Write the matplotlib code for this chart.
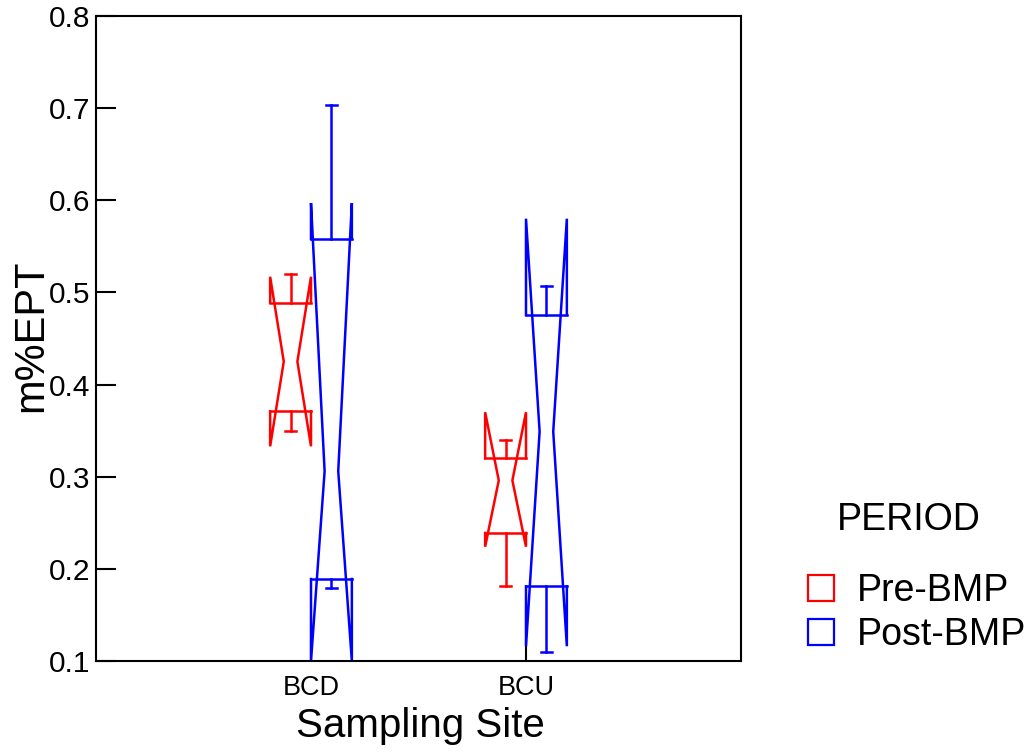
import matplotlib
matplotlib.use("Agg")
import matplotlib.pyplot as plt
from matplotlib.patches import Rectangle

# values (notched box plot, SYSTAT style)
sites = ["BCD", "BCU"]
periods = ["Pre-BMP", "Post-BMP"]
colors = ["#ff0000", "#0000ff"]

med_pre = [0.425, 0.296]
q1_pre = [0.371, 0.239]
q3_pre = [0.489, 0.320]
lo_pre = [0.350, 0.181]
hi_pre = [0.520, 0.340]
cilo_pre = [0.333, 0.224]
cihi_pre = [0.517, 0.370]

med_post = [0.306, 0.349]
q1_post = [0.189, 0.181]
q3_post = [0.558, 0.4755]
lo_post = [0.179, 0.110]
hi_post = [0.703, 0.507]
cilo_post = [0.100, 0.116]
cihi_post = [0.597, 0.580]

y_ticks = [0.1, 0.2, 0.3, 0.4, 0.5, 0.6, 0.7, 0.8]

FONT = "Liberation Sans"
DPI = 100
LW = 1.8


def notched_box(ax, x, med, q1, q3, lo, hi, cilo, cihi, color, hw=0.095):
    waist = hw / 3.0
    cap = 0.026
    kw = dict(color=color, lw=LW, solid_joinstyle="miter", clip_on=True)
    # hinges
    ax.plot([x - hw, x + hw], [q3, q3], **kw)
    ax.plot([x - hw, x + hw], [q1, q1], **kw)
    # notched sides
    for s in (-1, 1):
        xs = [x + s * hw, x + s * hw, x + s * waist, x + s * hw, x + s * hw]
        ys = [q1, cilo, med, cihi, q3]
        ax.plot(xs, ys, **kw)
    # whiskers with small caps
    ax.plot([x, x], [q3, hi], **kw)
    ax.plot([x - cap, x + cap], [hi, hi], **kw)
    ax.plot([x, x], [q1, lo], **kw)
    ax.plot([x - cap, x + cap], [lo, lo], **kw)


fig = plt.figure(figsize=(10.32, 7.54), dpi=DPI)
ax = fig.add_axes([96 / 1032, 93 / 754, 645 / 1032, 645 / 754])

offset = 0.095
for i in range(len(sites)):
    pos = i + 1
    notched_box(ax, pos - offset, med_pre[i], q1_pre[i], q3_pre[i], lo_pre[i],
                hi_pre[i], cilo_pre[i], cihi_pre[i], colors[0])
    notched_box(ax, pos + offset, med_post[i], q1_post[i], q3_post[i], lo_post[i],
                hi_post[i], cilo_post[i], cihi_post[i], colors[1])

ax.set_xlim(0, 3)
ax.set_ylim(0.1, 0.8)
ax.set_yticks(y_ticks)
ax.set_yticklabels([f"{v:.1f}" for v in y_ticks], fontfamily=FONT, fontsize=21.5)
ax.set_xticks([1, 2])
ax.set_xticklabels(sites, fontfamily=FONT, fontsize=19.5)
ax.tick_params(axis="both", direction="in", length=14.5, width=1.5, color="black")
ax.tick_params(axis="y", pad=4)
ax.tick_params(axis="x", pad=10)
for sp in ax.spines.values():
    sp.set_linewidth(1.5)

# axis titles
fig.text(11 / 1032, 1 - 336 / 754, "m%EPT", rotation=90, ha="left", va="center",
         fontfamily=FONT, fontsize=30)
fig.text(420 / 1032, 1 - 737 / 754, "Sampling Site", ha="center", va="baseline",
         fontfamily=FONT, fontsize=29)

# legend drawn by hand to sit where the reference puts it
fig.text(909 / 1032, 1 - 530 / 754, "PERIOD", ha="center", va="baseline",
         fontfamily=FONT, fontsize=27)
legend_base = [601, 645]
for k, lab in enumerate(periods):
    yb = legend_base[k]
    fig.add_artist(Rectangle((808 / 1032, 1 - yb / 754), 26 / 1032, 26 / 754,
                             transform=fig.transFigure, fill=False,
                             edgecolor=colors[k], lw=1.6))
    fig.text(857 / 1032, 1 - yb / 754, lab, ha="left", va="baseline",
             fontfamily=FONT, fontsize=27)

fig.savefig("out.png", dpi=DPI)
